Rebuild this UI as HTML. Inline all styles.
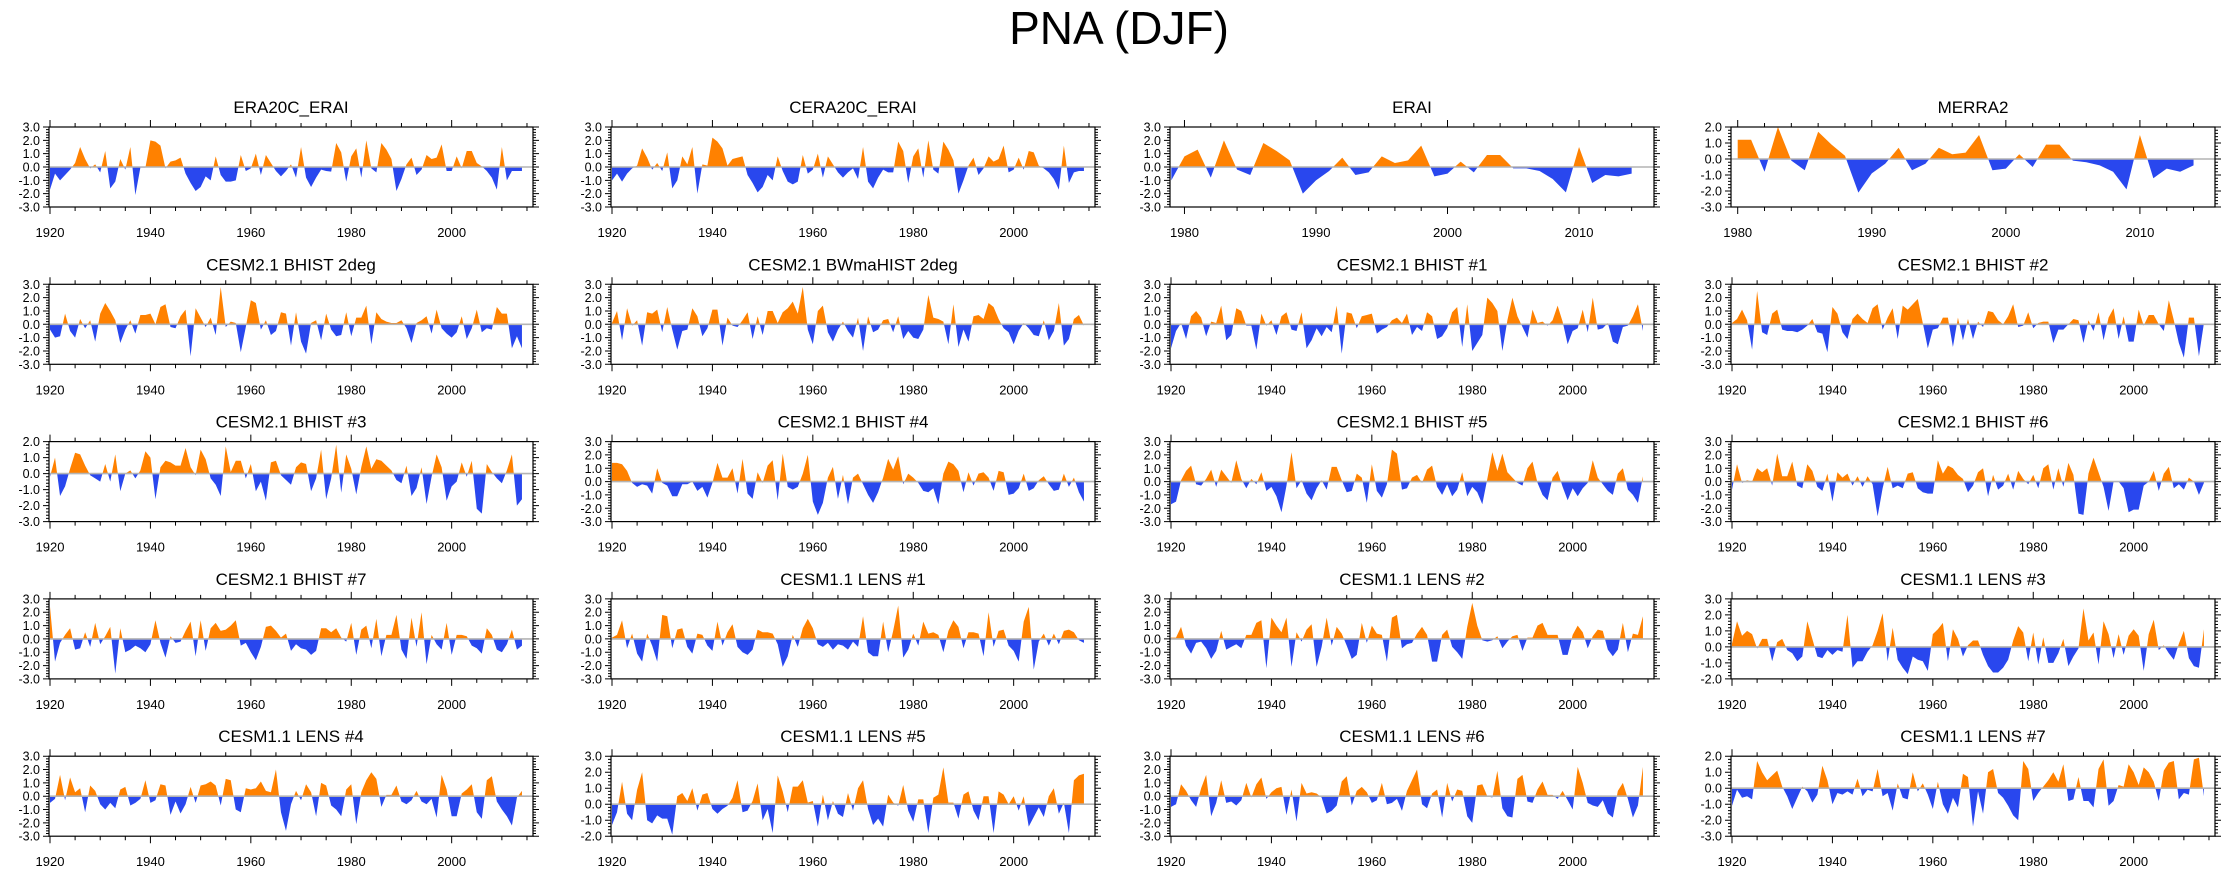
<!DOCTYPE html>
<html><head><meta charset="utf-8">
<style>
html,body{margin:0;padding:0;background:#fff;}
svg{display:block;font-family:"Liberation Sans",Arial,sans-serif;}
</style></head>
<body>
<svg id="fig" width="2238" height="876" viewBox="0 0 2238 876" xmlns="http://www.w3.org/2000/svg">
<text x="1119" y="44" text-anchor="middle" font-size="46" fill="#000">PNA (DJF)</text>
</svg>
<script>
const titles = ["ERA20C_ERAI","CERA20C_ERAI","ERAI","MERRA2","CESM2.1 BHIST 2deg","CESM2.1 BWmaHIST 2deg","CESM2.1 BHIST #1","CESM2.1 BHIST #2","CESM2.1 BHIST #3","CESM2.1 BHIST #4","CESM2.1 BHIST #5","CESM2.1 BHIST #6","CESM2.1 BHIST #7","CESM1.1 LENS #1","CESM1.1 LENS #2","CESM1.1 LENS #3","CESM1.1 LENS #4","CESM1.1 LENS #5","CESM1.1 LENS #6","CESM1.1 LENS #7"];
const startYears = [1920,1920,1979,1980,1920,1920,1920,1920,1920,1920,1920,1920,1920,1920,1920,1920,1920,1920,1920,1920];
const yMins = [-3,-3,-3,-3,-3,-3,-3,-3,-3,-3,-3,-3,-3,-3,-3,-2,-3,-2,-3,-3];
const yMaxs = [3,3,3,2,3,3,3,3,2,3,3,3,3,3,3,3,3,3,3,2];
const xMins = [1919.8,1919.8,1978.9,1979.5,1919.8,1919.8,1919.8,1919.8,1919.8,1919.8,1919.8,1919.8,1919.8,1919.8,1919.8,1919.8,1919.8,1919.8,1919.8,1919.8];
const xMaxs = [2016.2,2016.2,2015.7,2015.6,2016.2,2016.2,2016.2,2016.2,2016.2,2016.2,2016.2,2016.2,2016.2,2016.2,2016.2,2016.2,2016.2,2016.2,2016.2,2016.2];

const sEra20c = [-1.7,-0.5,-1.0,-0.6,-0.2,0.3,1.5,0.6,-0.1,0.2,-0.4,1.2,-1.6,-1.1,0.6,-0.2,1.5,-2.1,-0.05,-0.05,2.0,1.9,1.6,-0.1,0.4,0.5,0.7,-0.5,-1.2,-1.8,-1.5,-0.7,-1.0,0.8,-0.6,-1.1,-1.1,-1.0,0.9,-0.3,-0.1,1.0,-0.6,0.9,0.3,-0.3,-0.7,-0.3,0.2,-0.8,1.5,-0.8,-1.5,-0.8,-0.2,-0.3,-0.35,1.8,1.1,-1.1,0.8,1.4,-0.8,2.0,-0.1,-0.4,1.8,1.3,0.6,-1.8,-0.9,0.2,0.7,-0.6,-0.2,0.9,0.6,0.7,1.7,-0.3,-0.3,0.8,-0.1,1.2,1.2,0.3,0.05,-0.3,-0.8,-1.7,1.5,-1.0,-0.3,-0.3,-0.3];
const sCera20c = [-1.0,-0.5,-1.1,-0.5,-0.1,0.1,1.4,0.7,-0.2,0.3,-0.3,1.1,-1.6,-1.0,0.8,0.2,1.5,-2.0,0.2,0.1,2.2,1.9,1.4,0.1,0.6,0.7,0.8,-0.6,-1.2,-1.9,-1.5,-0.6,-1.0,0.8,-0.3,-1.1,-1.3,-1.1,0.9,-0.5,-0.2,1.0,-0.8,0.8,0.2,-0.4,-0.8,-0.4,-0.1,-0.9,1.5,-1.1,-1.6,-0.8,-0.2,-0.4,-0.4,1.9,1.2,-1.2,0.8,1.4,-0.8,2.0,-0.2,-0.5,1.9,1.3,0.5,-2.0,-1.0,0.1,0.7,-0.6,-0.1,0.8,0.4,0.6,1.6,-0.4,-0.2,0.7,-0.2,1.2,1.1,0.1,-0.1,-0.4,-0.9,-1.7,1.6,-1.2,-0.4,-0.3,-0.3];
const sErai = [-1.0,0.8,1.3,-0.8,2.0,-0.2,-0.6,1.8,1.2,0.5,-2.0,-1.0,-0.3,0.7,-0.6,-0.4,0.8,0.3,0.5,1.6,-0.7,-0.5,0.4,-0.4,0.9,0.9,-0.1,-0.1,-0.3,-0.9,-1.9,1.5,-1.2,-0.6,-0.7,-0.5];
const sMerra2 = [1.2,1.2,-0.8,2.0,-0.1,-0.7,1.7,0.9,0.2,-2.1,-0.9,-0.3,0.7,-0.7,-0.3,0.7,0.3,0.4,1.5,-0.7,-0.6,0.3,-0.5,0.9,0.9,-0.1,-0.2,-0.4,-0.8,-1.9,1.5,-1.2,-0.6,-0.8,-0.4];
const sBhist2deg = [-0.4,-1.0,-0.9,0.8,-0.5,-1.0,0.4,-0.3,0.3,-1.3,0.8,1.6,1.0,0.3,-1.4,-0.4,0.3,-0.7,0.7,0.7,0.8,0.0,1.3,1.5,-0.2,-0.3,0.6,1.1,-2.4,1.2,0.5,-0.2,0.5,-0.8,2.8,-0.2,0.2,0.1,-2.1,-0.2,1.8,1.6,-0.4,0.3,-0.8,-0.5,0.9,0.8,-1.6,0.9,-1.3,-2.2,0.1,0.3,-1.2,0.8,-0.4,-0.9,-0.8,0.9,-0.9,0.5,0.5,1.4,-1.5,0.9,0.4,0.2,0.1,0.1,0.3,-0.3,-1.4,0.1,0.3,0.6,-0.7,1.1,-0.3,-0.7,-1.0,-0.6,0.6,-1.1,-0.3,1.1,-0.6,-0.3,-0.4,1.3,0.8,0.8,-1.8,-0.9,-1.8];
const sBwmahist = [0.1,1.0,-1.2,1.2,-0.1,0.3,-1.6,0.9,0.8,1.1,-0.6,1.3,-0.4,-1.9,-0.5,-0.4,1.2,0.6,-0.9,-0.3,1.1,1.1,-1.6,0.5,-0.1,-0.2,0.3,0.9,-1.1,0.6,-0.8,1.0,1.0,0.1,0.9,1.2,1.7,0.8,2.8,-0.4,-1.5,1.0,1.4,-0.6,-1.3,-0.4,0.2,-0.5,-1.0,0.5,-2.0,0.6,-0.6,-0.4,0.3,0.4,-0.6,0.6,-1.1,-0.5,-1.0,-1.1,-0.4,2.2,0.5,0.4,0.2,-1.5,1.5,-1.7,-0.4,-1.3,0.6,0.7,0.4,1.6,1.3,0.4,-0.3,-0.6,-1.5,-0.5,0.1,-0.3,-0.8,-0.9,0.3,-1.2,-0.5,1.6,-1.6,-1.1,0.4,0.7,-0.1];
const sBhist1 = [-1.8,-0.5,0.1,-1.1,0.6,1.0,0.5,-0.9,0.2,0.1,1.4,-1.2,-0.8,1.2,1.0,-0.1,-0.1,-1.9,0.8,-0.1,0.3,-0.8,0.6,0.9,-0.4,-0.5,0.9,-1.8,-1.2,-0.3,-0.9,-0.2,-0.6,1.4,-2.2,0.9,0.8,-0.3,0.6,0.7,0.8,-0.7,-0.4,-0.2,0.3,0.5,0.1,0.8,-0.8,-0.2,-0.5,0.9,0.6,-1.1,-0.9,-0.3,0.9,1.3,-1.7,1.5,-2.0,-1.4,-0.8,2.0,1.6,1.0,-2.0,0.3,2.0,0.6,-0.2,-1.0,1.1,0.1,0.2,-0.1,0.3,1.4,0.2,-1.5,-0.5,-0.3,1.1,-0.6,2.0,-0.4,-0.3,0.1,-1.3,-1.5,-0.2,-0.1,0.6,1.5,-0.5];
const sBhist2 = [0.1,0.4,1.1,0.3,-1.9,2.5,-0.6,-0.8,0.8,1.1,-0.4,-0.5,-0.5,-0.6,-0.4,-0.1,0.4,-0.6,-0.7,-2.1,1.3,0.8,-0.6,-1.1,0.4,0.8,0.4,0.1,1.2,1.5,-0.4,0.5,1.2,-1.1,1.4,1.1,1.5,1.9,0.1,-1.8,-0.4,-0.3,0.5,0.5,-1.7,0.5,-1.2,0.4,-1.1,0.2,-0.2,1.0,0.9,0.3,0.0,0.6,1.5,-0.2,-0.1,0.9,-0.3,0.1,0.2,0.2,-1.4,-0.4,-0.4,0.0,0.4,0.3,-1.4,0.3,-0.5,0.9,-1.2,0.5,1.2,-1.1,0.6,-1.3,-1.3,1.1,-0.1,0.7,0.7,0.0,-0.5,1.8,0.3,-1.4,-2.5,0.5,0.5,-2.4,0.1];
const sBhist3 = [-0.2,1.0,-1.4,-0.8,0.3,1.3,1.2,0.5,-0.1,-0.3,-0.5,0.6,-0.5,1.2,-1.1,0.0,0.2,-0.3,0.2,1.4,1.0,-1.6,0.4,0.8,0.7,0.5,0.5,1.6,0.4,-0.1,1.5,0.9,-0.3,-0.7,-1.4,1.7,0.1,0.8,0.8,-0.3,0.6,-1.1,-0.5,-1.7,0.7,0.8,-0.1,-0.4,-0.7,0.4,0.7,0.6,-1.1,-0.3,1.5,-1.6,-0.3,1.8,-1.2,1.2,0.3,-1.3,0.4,1.7,0.3,0.9,0.8,0.5,0.2,-0.4,-0.6,0.5,-1.4,-0.9,0.4,-1.9,-0.2,1.2,0.4,-1.7,-0.8,-0.5,0.7,-0.2,0.8,-2.2,-2.5,0.6,0.1,-0.3,-0.6,0.2,1.2,-2.0,-1.6];
const sBhist4 = [1.4,1.4,1.3,0.8,-0.1,-0.4,-0.2,-0.3,-0.9,1.0,-0.1,-0.3,-1.1,-1.1,-0.2,-0.2,0.0,-0.7,-0.4,-1.2,-0.1,1.4,0.3,0.3,1.0,-0.9,1.7,-0.9,-1.3,0.7,-0.1,1.2,1.6,-1.4,2.1,-0.4,-0.6,-0.4,0.6,2.0,-1.5,-2.5,-1.6,0.3,1.1,-1.3,0.5,-1.7,0.3,0.6,-0.2,-1.0,-1.6,-0.8,0.3,1.7,0.9,1.9,-0.2,0.6,0.3,-0.1,-0.7,-0.8,-0.5,-1.7,0.6,1.5,1.3,0.8,-0.8,0.7,-0.3,0.6,0.7,0.3,-0.7,0.8,0.7,-1.0,-0.9,-0.5,0.6,-0.7,-0.5,0.1,0.4,-0.2,-0.7,-0.6,0.6,-0.4,0.3,-0.8,-1.5];
const sBhist5 = [-1.7,-1.5,0.1,0.8,1.2,-0.2,-0.3,0.2,0.9,-0.4,0.9,0.4,-0.1,1.6,0.2,-0.5,0.2,-0.2,0.7,-0.7,-0.4,-1.1,-2.3,-0.3,2.2,-0.5,0.1,-0.9,-1.4,-0.5,0.1,-0.6,1.1,1.1,0.1,-0.8,-0.7,0.6,0.3,-1.6,1.3,-0.7,-1.2,-0.2,2.4,2.1,-0.6,-0.5,0.3,0.5,-0.1,0.9,1.2,-0.4,-1.0,-0.2,-1.1,-0.6,0.7,-1.1,-0.4,-0.8,-1.7,0.2,2.2,0.8,2.1,0.7,0.3,-0.1,-0.3,1.0,1.5,-0.1,-1.0,-1.4,0.3,0.8,-0.4,-1.4,-0.5,-1.1,-0.5,-0.1,1.6,0.3,-0.2,-0.7,-1.0,0.6,1.0,-0.6,-1.0,-1.6,0.4];
const sBhist6 = [-0.6,1.3,-0.1,0.1,0.0,1.0,0.7,1.0,-0.3,2.1,0.4,0.4,1.5,-0.3,-0.5,1.3,0.8,-0.4,-0.7,0.6,-1.5,0.7,0.3,0.6,-0.3,0.4,-0.4,0.4,-0.2,-2.6,-0.5,1.1,-0.5,-0.3,-0.5,0.6,0.7,-0.5,-0.8,-0.9,-0.9,1.6,0.6,1.2,1.0,0.5,0.2,-0.8,-0.3,0.7,1.0,-1.1,0.5,-0.6,-0.3,0.6,-0.6,0.8,0.2,-0.2,0.5,-0.5,1.0,1.3,-0.6,1.0,-0.4,1.4,0.5,-2.4,-2.5,0.6,1.8,0.7,-0.4,-2.2,0.0,0.0,-0.5,-2.3,-2.1,-2.1,-0.3,0.0,0.8,-0.7,0.6,1.1,-0.5,-0.2,-0.6,0.3,0.0,-1.0,-0.1];
const sBhist7 = [2.4,-1.7,-0.3,0.3,0.8,-0.8,-0.7,0.5,-0.6,1.2,-0.4,0.2,0.9,-2.6,0.8,-1.0,-0.8,-0.5,-0.7,-1.0,-0.4,1.4,-0.3,-1.4,0.2,-0.3,-0.2,0.6,1.3,-1.3,1.4,-0.9,0.8,1.2,0.6,0.7,1.0,1.4,-0.5,-0.3,-1.0,-1.6,-0.6,0.9,1.0,0.6,0.1,0.4,-0.9,-0.4,-0.7,-0.8,-1.2,-0.9,0.8,0.8,0.5,0.8,0.1,-0.2,1.2,-1.2,0.7,1.0,-0.7,1.5,-1.3,0.3,0.3,1.8,-0.8,-1.5,1.6,-0.6,2.0,-1.9,0.3,-0.4,-0.8,1.2,-1.2,0.3,0.3,0.2,-0.5,-0.7,-1.1,0.8,0.3,-0.8,-1.0,-0.4,0.7,-0.8,-0.5];
const sLens1 = [0.1,0.3,1.4,-0.7,0.4,-1.1,-1.7,0.4,-0.5,-1.7,1.8,1.7,-0.7,0.7,0.8,-0.6,-1.1,0.4,0.3,-0.5,-0.9,1.3,-0.5,0.5,1.1,-0.6,-1.0,-1.2,-0.8,0.7,0.5,0.5,0.4,-0.4,-2.1,-1.3,0.3,-0.6,0.8,1.5,0.8,-0.4,-0.6,-0.3,-0.8,-0.4,-0.5,-0.8,-0.2,-0.6,1.7,-1.0,-1.3,-1.3,1.3,-1.0,0.6,2.5,-1.4,-0.8,0.4,-0.5,1.3,0.4,0.5,0.3,-1.0,0.6,1.4,0.9,-0.7,0.5,0.5,0.4,-1.3,2.0,-0.6,0.6,0.7,-0.5,-0.9,-1.7,1.3,2.4,-2.3,-0.2,0.4,-0.5,0.4,-0.4,0.6,0.7,0.5,-0.1,-0.3];
const sLens2 = [0.1,0.1,0.9,-0.5,-1.1,-0.3,-0.2,-0.7,-1.5,-0.9,0.6,-0.8,-0.6,-0.4,-0.7,0.3,0.3,1.2,1.4,-2.2,1.6,1.0,0.5,1.6,-2.1,0.5,-0.2,0.7,1.1,-2.1,-0.6,1.6,-0.5,0.9,0.4,-0.5,-1.5,-1.2,1.2,-0.3,1.0,0.4,0.3,-1.7,1.6,1.8,-0.7,-0.4,-0.3,0.4,0.9,0.3,-1.7,-1.7,0.3,0.7,-0.6,-1.0,-1.5,0.9,2.7,1.0,-0.1,-0.2,-0.1,0.2,-0.7,-0.2,0.2,0.3,-0.9,0.1,0.1,1.0,1.2,0.3,0.3,0.3,-1.2,-1.2,0.3,1.0,0.5,-0.7,0.2,0.7,0.6,-0.8,-1.3,-0.8,1.2,-1.0,0.4,0.3,1.7];
const sLens3 = [0.2,1.6,0.7,1.0,0.8,-0.1,0.5,0.5,-0.9,0.3,0.5,-0.2,-0.4,-0.9,-0.6,1.6,0.5,-0.6,-0.7,-0.2,-0.5,-0.2,-0.3,2.0,-1.3,-0.9,-0.9,-0.3,0.1,1.0,2.1,-0.9,1.2,-0.8,-1.3,-1.7,-0.6,-0.8,-0.9,-1.5,0.8,1.1,1.5,-0.9,1.1,0.5,-0.6,0.1,0.4,0.4,-0.5,-1.2,-1.6,-1.6,-1.3,-0.8,0.4,1.3,0.9,-0.9,0.9,-1.1,0.6,-1.0,-1.0,-0.4,0.5,-1.2,-0.6,-0.1,2.4,0.4,0.9,-1.1,1.6,0.8,-0.7,0.8,-0.5,0.7,1.1,0.7,-1.5,0.8,1.7,-0.2,0.1,-0.4,-0.8,0.2,1.0,-0.7,-1.2,-1.3,1.1];
const sLens4 = [-0.5,-0.2,1.6,-0.3,1.4,0.3,0.6,-1.2,0.8,0.4,-0.6,-1.0,-0.5,-0.9,0.5,0.7,-0.7,-0.5,-0.2,1.2,-0.5,-0.3,0.9,0.8,-1.4,-0.4,-1.3,-0.6,0.7,-0.5,0.8,0.9,1.1,0.8,-0.7,1.3,1.2,-1.0,-1.2,0.6,0.5,0.6,1.1,0.4,0.3,2.0,-1.2,-2.6,-0.6,0.4,-0.3,0.9,0.3,-1.5,1.0,0.8,-0.7,-1.0,-1.5,0.5,0.9,-2.1,0.3,1.2,1.8,1.3,-0.8,0.1,0.1,0.8,-0.4,-0.6,-0.3,0.4,-0.4,-0.6,-0.2,-1.6,1.6,0.5,-1.5,-1.5,0.2,0.5,0.9,-1.2,-1.7,1.2,1.5,-0.4,-1.0,-1.5,-2.2,-0.1,0.4];
const sLens5 = [-1.3,-0.5,1.4,-0.6,-1.0,0.9,2.0,-1.0,-1.2,-0.7,-0.9,-0.9,-1.9,0.5,0.7,0.2,1.0,-0.4,0.6,0.7,-0.3,-0.6,-0.3,-0.1,0.4,1.5,-0.5,-0.4,0.2,1.3,-1.0,-0.3,-1.8,1.8,0.8,-0.5,1.1,1.1,1.5,0.1,0.2,-1.4,0.6,-1.0,0.2,-0.6,-0.8,0.7,-0.4,1.0,1.5,-0.3,-1.3,-0.9,-1.4,0.6,0.1,-0.1,1.2,-0.4,-1.1,0.3,0.3,-1.8,0.4,0.6,2.3,0.1,0.1,-0.9,0.6,0.8,-0.4,-1.0,0.5,0.5,-1.8,0.8,0.6,0.0,0.5,-0.4,0.5,-1.4,-0.8,-0.2,-0.8,0.5,1.0,-0.6,0.1,-1.8,1.5,1.8,1.9];
const sLens6 = [-0.8,-0.6,0.9,0.4,-0.3,-0.8,0.6,1.6,-1.5,-0.5,1.2,-0.5,-0.4,-0.7,-0.3,1.0,-0.1,0.9,1.4,-0.2,0.3,0.6,0.7,-1.4,0.5,-1.9,1.0,0.2,0.3,0.2,-0.1,-1.3,-1.1,-0.7,1.1,1.5,-0.7,0.4,0.7,0.3,-0.5,-0.3,1.0,-0.6,-0.5,-0.2,-1.1,0.4,1.2,2.0,-0.6,-0.9,0.2,0.5,-1.6,1.0,-0.4,0.5,0.4,-1.5,-2.0,0.8,0.9,0.0,-0.1,1.9,-0.9,-1.5,-1.6,1.3,1.6,-0.4,-0.5,0.5,1.1,0.1,0.1,-0.2,0.4,-0.3,-1.0,2.2,1.0,-0.5,-0.7,-0.8,-0.3,-1.3,-1.6,0.4,1.0,-0.2,-1.6,-0.7,2.2];
const sLens7 = [-1.1,-0.1,-0.6,-0.5,-0.7,1.7,1.0,0.5,0.8,1.1,0.1,-0.5,-1.3,-0.6,0.1,-0.2,-0.9,-0.4,1.4,0.5,-1.0,-0.3,-0.4,-0.2,-0.4,0.6,-0.5,-0.1,-0.2,1.2,-0.5,-0.3,-1.4,0.3,-0.6,-0.7,1.0,-0.2,0.3,-0.4,-1.3,0.4,-1.0,-1.6,-0.6,-1.2,0.9,0.7,-2.4,-0.2,-1.6,1.0,1.2,-0.3,-0.6,-1.1,-1.7,-2.0,1.7,1.2,-0.8,-0.3,0.1,0.5,1.0,0.4,1.5,-0.8,-0.7,0.7,-0.8,-0.8,-1.2,1.2,1.8,-1.1,-0.8,0.2,0.1,1.5,1.0,0.2,1.3,1.0,0.4,-0.8,1.1,1.6,1.7,-0.7,-0.3,-0.4,1.8,1.9,-0.5];

const seriesList = [sEra20c,sCera20c,sErai,sMerra2,sBhist2deg,sBwmahist,sBhist1,sBhist2,sBhist3,sBhist4,sBhist5,sBhist6,sBhist7,sLens1,sLens2,sLens3,sLens4,sLens5,sLens6,sLens7];

const NS = "http://www.w3.org/2000/svg";
const svg = document.getElementById("fig");
const colL = [49, 611, 1170, 1731];
const boxW = 484, boxH = 80, rowT0 = 127, rowStep = 157.3;
const ORANGE = "#ff8100", BLUE = "#2947ee";

function mk(tag, attrs, parent) {
  const el = document.createElementNS(NS, tag);
  for (const k in attrs) el.setAttribute(k, attrs[k]);
  parent.appendChild(el);
  return el;
}

for (let p = 0; p < seriesList.length; p++) {
  const data = seriesList[p];
  const col = p % 4, row = Math.floor(p / 4);
  const L = colL[col], T = rowT0 + row * rowStep, R = L + boxW, B = T + boxH;
  const xmin = xMins[p], xmax = xMaxs[p], ymin = yMins[p], ymax = yMaxs[p];
  const sx = v => L + (v - xmin) / (xmax - xmin) * boxW;
  const sy = v => B - (v - ymin) / (ymax - ymin) * boxH;
  const y0 = sy(0);

  const g = mk("g", {}, svg);
  
  

  const t = mk("text", {x: (L + R) / 2, y: T - 14, "text-anchor": "middle", "font-size": "17", fill: "#000"}, g);
  t.textContent = titles[p];
  
  

  // area
  const pts = [];
  for (let i = 0; i < data.length; i++) pts.push(sx(startYears[p] + i).toFixed(2) + "," + sy(data[i]).toFixed(2));
  const xa = sx(startYears[p]), xb = sx(startYears[p] + data.length - 1);
  const poly = xa.toFixed(2) + "," + y0.toFixed(2) + " " + pts.join(" ") + " " + xb.toFixed(2) + "," + y0.toFixed(2);
  const cidU = "cu" + p, cidD = "cd" + p;
  const defs = mk("defs", {}, g);
  const cu = mk("clipPath", {id: cidU}, defs);
  mk("rect", {x: L, y: T, width: boxW, height: y0 - T}, cu);
  const cd = mk("clipPath", {id: cidD}, defs);
  mk("rect", {x: L, y: y0, width: boxW, height: B - y0}, cd);
  const up = mk("polygon", {points: poly, fill: ORANGE, "clip-path": "url(#" + cidU + ")"}, g);
  
  
  const dn = mk("polygon", {points: poly, fill: BLUE, "clip-path": "url(#" + cidD + ")"}, g);
  
  

  const zl = mk("line", {x1: L, x2: R, y1: y0, y2: y0, stroke: "#b4b4b4", "stroke-width": "1.6"}, g);
  
  

  const box = mk("rect", {x: L, y: T, width: boxW, height: boxH, fill: "none", stroke: "#000", "stroke-width": "1.2"}, g);
  
  

  // y ticks
  const nMinor = Math.round((ymax - ymin) * 5);
  let tk = "";
  for (let i = 0; i <= nMinor; i++) {
    const v = ymin + i * 0.2, y = sy(v).toFixed(2);
    const major = i % 5 === 0, len = major ? 6 : 3;
    tk += `M${L} ${y}h${-len}M${R} ${y}h${len}`;
  }
  // x ticks
  const shortRange = startYears[p] > 1950;
  const minorStep = shortRange ? 2 : 5, majorStep = shortRange ? 10 : 20;
  const firstTick = Math.ceil(xmin / minorStep) * minorStep;
  for (let yr = firstTick; yr <= xmax; yr += minorStep) {
    const x = sx(yr).toFixed(2), major = yr % majorStep === 0, len = major ? 7 : 4;
    tk += `M${x} ${T}v${-len}M${x} ${B}v${len}`;
  }
  const tp = mk("path", {d: tk, stroke: "#000", "stroke-width": "1", fill: "none"}, g);
  
  

  for (let v = ymin; v <= ymax; v++) {
    const lb = mk("text", {x: L - 9, y: sy(v) + 4.5, "text-anchor": "end", "font-size": "12.5", fill: "#000"}, g);
    lb.textContent = v.toFixed(1);
    
    
  }
  const firstMajor = Math.ceil(xmin / majorStep) * majorStep;
  for (let yr = firstMajor; yr <= xmax; yr += majorStep) {
    const lb = mk("text", {x: sx(yr), y: B + 30, "text-anchor": "middle", "font-size": "13", fill: "#000"}, g);
    lb.textContent = yr;
    
    
  }
}
</script>
</body></html>
